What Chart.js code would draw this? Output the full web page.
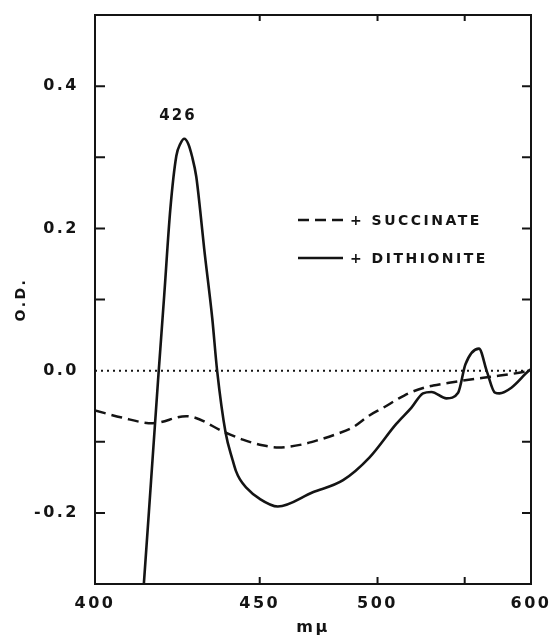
<!DOCTYPE html>
<html><head><meta charset="utf-8">
<script src="https://cdn.jsdelivr.net/npm/chart.js@4/dist/chart.umd.min.js"></script>
<style>html,body{margin:0;padding:0;background:#fff;}</style>
</head><body>
<canvas id="c" width="555" height="635" style="width:555px;height:635px;display:block"></canvas>
<script>
// ---- data ----
const xTickValues = [400, 450, 500, 550, 600];
const xTickLabels = ['400', '450', '500', '', '600'];
const xTickMarks = [450, 500, 550];
const yTickValues = [0.4, 0.2, 0.0, -0.2];
const yTickLabels = ['0.4', '0.2', '0.0', '-0.2'];
const yTickMarks = [0.4, 0.3, 0.2, 0.1, -0.1, -0.2];

const succinateWl = [400, 407, 415.5, 425.5, 438, 444, 451, 457, 466, 473.5, 481, 488, 496, 503, 511, 517, 526.5, 530.2, 540, 562.7, 575, 590, 600];
const succinateOD = [-0.056, -0.066, -0.074, -0.064, -0.087, -0.097, -0.105, -0.108, -0.104, -0.097, -0.089, -0.080, -0.063, -0.052, -0.039, -0.031, -0.023, -0.021, -0.017, -0.010, -0.007, -0.003, 0.0];

const dithioniteWl = [412.9, 413.1, 415.1, 417.1, 418.9, 420.7, 422.5, 423.7, 424.9, 426.1, 427.3, 428.6, 429.85, 431.1, 433.7, 435.3, 438.1, 440.5, 441.6, 443.0, 445.1, 449.9, 456.7, 470.6, 483.7, 496.1, 509.6, 517.8, 524.3, 529.2, 538.3, 545.7, 550.5, 559.7, 565.3, 571.2, 574.6, 583.8, 597.6, 600];
const dithioniteOD = [-0.31, -0.297, -0.155, -0.014, 0.106, 0.227, 0.302, 0.319, 0.326, 0.319, 0.301, 0.273, 0.225, 0.172, 0.074, 0.0, -0.087, -0.126, -0.141, -0.153, -0.164, -0.180, -0.191, -0.171, -0.154, -0.122, -0.075, -0.052, -0.032, -0.030, -0.039, -0.031, 0.009, 0.031, -0.001, -0.031, -0.032, -0.024, -0.001, 0.002];

const baselineWl = [400, 600];
const baselineOD = [0, 0];

const peakText = '426';
const peakWl = 422.7;
const peakOD = 0.358;

const seriesNames = ['+ SUCCINATE', '+ DITHIONITE'];

// ---- scale linear in 1/lambda^2 (prism dispersion) ----
class InvSquareScale extends Chart.LinearScale {
  _u(v) { return 1 / (v * v); }
  buildTicks() {
    this.start = this.min; this.end = this.max;
    return xTickValues.map(v => ({ value: v }));
  }
  getPixelForValue(value) {
    if (value === null || value === undefined || isNaN(value)) return NaN;
    const a = this._u(this.min), b = this._u(this.max);
    return this.getPixelForDecimal((a - this._u(value)) / (a - b));
  }
  getValueForPixel(pixel) {
    const a = this._u(this.min), b = this._u(this.max);
    const d = this.getDecimalForPixel(pixel);
    return 1 / Math.sqrt(a - d * (a - b));
  }
}
InvSquareScale.id = 'invsquare';
InvSquareScale.defaults = {};
Chart.register(InvSquareScale);

const INK = '#141414';
const pts = (xs, ys) => xs.map((x, i) => ({ x: x, y: ys[i] }));

const framePlugin = {
  id: 'frame',
  beforeDraw(chart) {
    chart.ctx.letterSpacing = '2.5px';
  },
  afterDatasetsDraw(chart) {
    const { ctx, chartArea: { left, right, top, bottom }, scales: { x, y } } = chart;
    ctx.save();
    ctx.strokeStyle = INK;
    ctx.lineWidth = 2;
    ctx.strokeRect(left, top, right - left, bottom - top);
    ctx.beginPath();
    yTickMarks.forEach(v => {
      const py = y.getPixelForValue(v);
      ctx.moveTo(left, py); ctx.lineTo(left + 10, py);
      ctx.moveTo(right, py); ctx.lineTo(right - 9, py);
    });
    xTickMarks.forEach(v => {
      const px = x.getPixelForValue(v);
      ctx.moveTo(px, bottom); ctx.lineTo(px, bottom - 7);
      ctx.moveTo(px, top); ctx.lineTo(px, top + 6);
    });
    ctx.stroke();

    // peak annotation
    ctx.fillStyle = INK;
    ctx.font = 'bold 15px "DejaVu Sans"';
    ctx.letterSpacing = '2px';
    ctx.textAlign = 'center';
    ctx.textBaseline = 'middle';
    ctx.fillText(peakText, x.getPixelForValue(peakWl) + 1, y.getPixelForValue(peakOD));

    // legend
    const lx0 = left + 203, lx1 = left + 248, tx = left + 255;
    const rows = [top + 205, top + 243];
    chart.data.datasets.slice(0, 2).forEach((ds, i) => {
      ctx.save();
      ctx.lineWidth = ds.borderWidth;
      ctx.strokeStyle = INK;
      ctx.setLineDash(ds.borderDash || []);
      ctx.beginPath();
      ctx.moveTo(lx0, rows[i]); ctx.lineTo(lx1, rows[i]);
      ctx.stroke();
      ctx.restore();
      ctx.font = 'bold 14px "DejaVu Sans"';
      ctx.letterSpacing = '2.5px';
      ctx.textAlign = 'left';
      ctx.fillText(ds.label, tx, rows[i] + 1);
    });
    ctx.restore();
  }
};

new Chart(document.getElementById('c'), {
  type: 'line',
  data: {
    datasets: [
      {
        label: seriesNames[0],
        data: pts(succinateWl, succinateOD),
        borderColor: INK, borderWidth: 2.5, borderDash: [11, 6],
        pointRadius: 0, cubicInterpolationMode: 'monotone', fill: false
      },
      {
        label: seriesNames[1],
        data: pts(dithioniteWl, dithioniteOD),
        borderColor: INK, borderWidth: 2.6,
        pointRadius: 0, cubicInterpolationMode: 'monotone', fill: false
      },
      {
        label: 'baseline',
        data: pts(baselineWl, baselineOD),
        borderColor: INK, borderWidth: 2, borderDash: [2, 4],
        pointRadius: 0, fill: false
      }
    ]
  },
  options: {
    responsive: false,
    animation: false,
    devicePixelRatio: 1,
    layout: { padding: { top: 15, right: 24, left: 0, bottom: 0 } },
    plugins: { legend: { display: false }, tooltip: { enabled: false } },
    scales: {
      x: {
        type: 'invsquare',
        min: 400, max: 600,
        grid: { display: false, drawTicks: false },
        border: { display: false },
        afterFit: s => { s.height = 51; s.paddingLeft = 0; s.paddingRight = 0; },
        ticks: {
          autoSkip: false, maxRotation: 0, padding: 10,
          color: INK, font: { family: 'DejaVu Sans', weight: 'bold', size: 16 },
          callback: (v, i) => xTickLabels[i]
        },
        title: {
          display: true, text: 'mμ', color: INK,
          font: { family: 'DejaVu Sans', weight: 'bold', size: 16 },
          padding: { top: 0, bottom: -2 }
        }
      },
      y: {
        type: 'linear',
        min: -0.3, max: 0.5,
        grid: { display: false, drawTicks: false },
        border: { display: false },
        afterFit: s => { s.width = 95; s.paddingTop = 0; s.paddingBottom = 0; },
        afterBuildTicks: s => { s.ticks = yTickValues.map(v => ({ value: v })); },
        ticks: {
          autoSkip: false, padding: 16,
          color: INK, font: { family: 'DejaVu Sans', weight: 'bold', size: 16 },
          callback: (v, i) => yTickLabels[i]
        },
        title: {
          display: true, text: 'O.D.', color: INK,
          font: { family: 'DejaVu Sans', weight: 'bold', size: 14 },
          padding: { top: 13, bottom: 0 }
        }
      }
    }
  },
  plugins: [framePlugin]
});
</script>
</body></html>
